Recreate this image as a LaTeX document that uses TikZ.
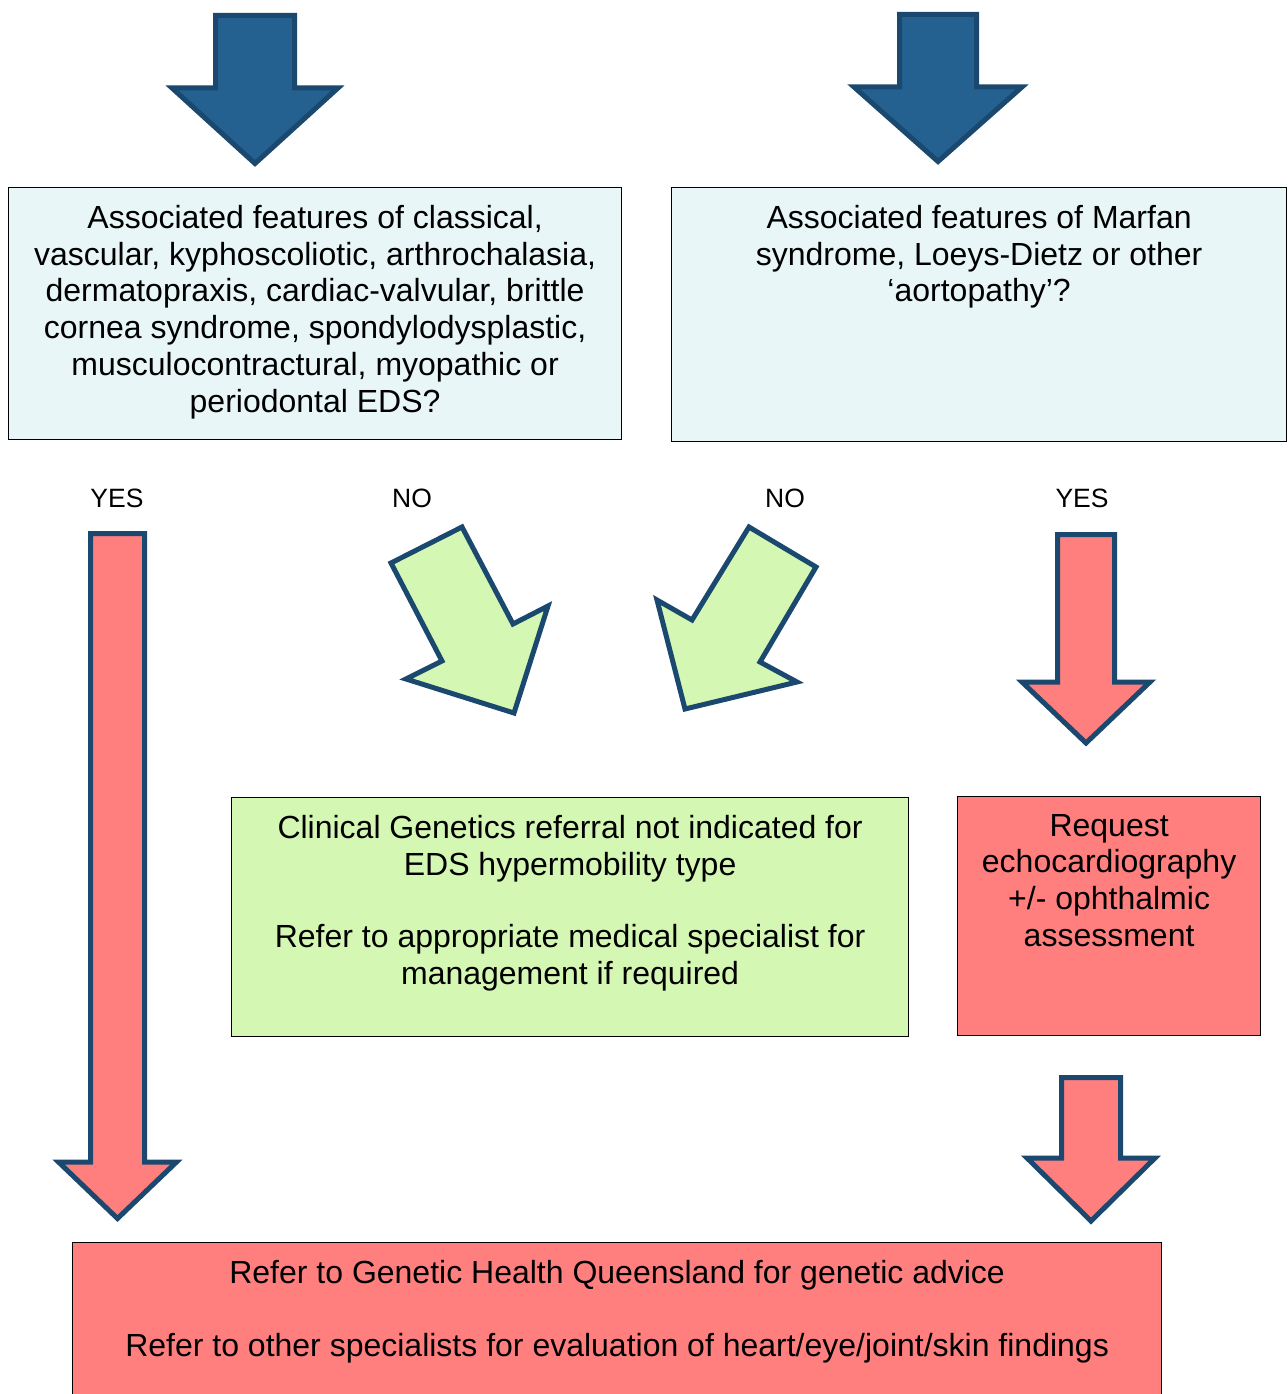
\documentclass[tikz,border=0pt]{standalone}
\usepackage{fontspec}
\setmainfont{Liberation Sans}

\definecolor{arrowblue}{RGB}{36,97,144}
\definecolor{arrowedge}{RGB}{27,72,110}
\definecolor{alertred}{RGB}{255,127,127}
\definecolor{okgreen}{RGB}{213,247,180}
\definecolor{paleblue}{RGB}{232,246,247}

% block arrow pointing down: fill, x, top, shaft half, head y, head half, tip
\newcommand{\downblock}[7]{%
  \draw[blockarrow, fill=#1] (#2-#4,#3) -- (#2+#4,#3) -- (#2+#4,#5) -- (#2+#6,#5)
    -- (#2,#7) -- (#2-#6,#5) -- (#2-#4,#5) -- cycle;}
% box text, top aligned
\newcommand{\boxtext}[3]{\parbox[c][#1pt][t]{#2pt}{\centering #3}}

\begin{document}
\begin{tikzpicture}[x=1pt, y=-1pt,
  blockarrow/.style = {draw=arrowedge, line width=5pt, line join=miter},
  flowbox/.style = {draw=black, line width=1.2pt, inner xsep=0pt, inner ysep=17.5pt,
    anchor=north west, font=\fontsize{32}{36.8}\selectfont},
  answer/.style = {font=\fontsize{26.5}{30}\selectfont}]
  \clip (0,0) rectangle (1287,1394);

  % entry arrows
  \downblock{arrowblue}{255}{15.5}{39.5}{88}{83}{163.5}
  \downblock{arrowblue}{938}{14.5}{38.5}{87}{84}{161.5}

  % questions
  \node[flowbox, fill=paleblue] (eds) at (8,187)
    {\boxtext{217}{613}{Associated features of classical,\\ vascular, kyphoscoliotic, arthrochalasia,\\
      dermatopraxis, cardiac-valvular, brittle\\ cornea syndrome, spondylodysplastic,\\
      musculocontractural, myopathic or\\ periodontal EDS?}};
  \node[flowbox, fill=paleblue] (marfan) at (671,187)
    {\boxtext{219}{615}{Associated features of Marfan\\ syndrome, Loeys-Dietz or other\\ ‘aortopathy’?}};

  % answers
  \node[answer] (edsyes) at (117,498) {YES};
  \node[answer] (edsno) at (412,498) {NO};
  \node[answer] (marfanno) at (785,498) {NO};
  \node[answer] (marfanyes) at (1082,498) {YES};

  \downblock{alertred}{117.5}{533.5}{27}{1162}{59}{1218.5}
  \draw[blockarrow, fill=okgreen] (391,563) -- (462,527) -- (513,624) -- (548,606)
    -- (514,713) -- (406,679) -- (442,661) -- cycle;
  \draw[blockarrow, fill=okgreen] (749,527) -- (816,567) -- (760,662) -- (797,682)
    -- (685,709) -- (657,600) -- (692,620) -- cycle;
  \downblock{alertred}{1086}{534.5}{28.5}{682}{64}{743}

  % outcomes
  \node[flowbox, fill=okgreen] (noref) at (231,797)
    {\boxtext{204}{677}{Clinical Genetics referral not indicated for\\ EDS hypermobility type\\[36pt]
      Refer to appropriate medical specialist for\\ management if required}};
  \node[flowbox, fill=alertred] (echo) at (957,796)
    {\boxtext{204}{303}{Request\\ echocardiography\\ +/- ophthalmic\\ assessment}};

  \downblock{alertred}{1091}{1077.5}{29.5}{1158}{64}{1221}

  \node[flowbox, fill=alertred] (refer) at (72,1242)
    {\boxtext{200}{1089}{Refer to Genetic Health Queensland for genetic advice\\[36pt]
      Refer to other specialists for evaluation of heart/eye/joint/skin findings}};
\end{tikzpicture}
\end{document}
